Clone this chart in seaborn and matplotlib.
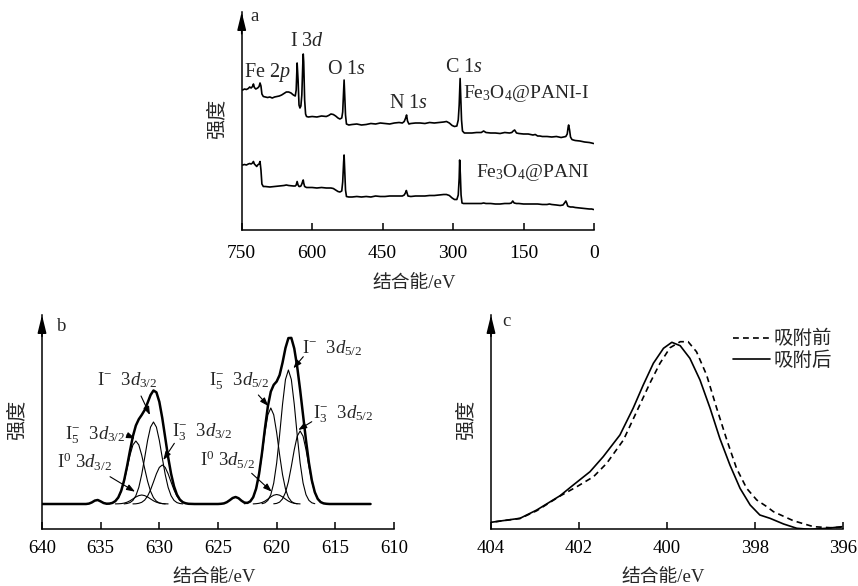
import numpy as np
import pandas as pd
import seaborn as sns
import matplotlib.pyplot as plt

sns.set_style('ticks')
plt.rcParams['font.family'] = ['Liberation Serif', 'Noto Sans CJK SC']
plt.rcParams['mathtext.fontset'] = 'custom'
plt.rcParams['mathtext.rm'] = 'Liberation Serif'
plt.rcParams['mathtext.it'] = 'Liberation Serif:italic'
plt.rcParams['mathtext.bf'] = 'Liberation Serif:bold'
plt.rcParams['axes.unicode_minus'] = False

# ---------------- 数据 ----------------
# a: 全谱 (Fe3O4@PANI-I 上, Fe3O4@PANI 下)
a_e_pani_i = [748, 744, 740, 736, 733, 730, 727, 725, 723, 720,
              716, 713, 711, 709, 707, 704, 700, 695, 690, 685,
              680, 675, 670, 665, 660, 655, 650, 645, 640, 636,
              634, 632, 630, 628, 626, 624, 622, 620, 619, 618,
              616, 614, 612, 608, 600, 590, 580, 570, 565, 560,
              555, 550, 545, 541, 537, 535, 533, 532, 531, 529,
              527, 522, 515, 505, 495, 485, 475, 465, 455, 445,
              435, 425, 415, 408, 404, 401, 399, 397, 394, 390,
              380, 370, 360, 350, 340, 330, 320, 314, 308, 302,
              297, 292, 289, 287, 285, 284, 282, 280, 276, 270,
              260, 250, 240, 235, 230, 220, 210, 200, 190, 180,
              175, 172, 169, 165, 160, 150, 140, 130, 125, 120,
              115, 110, 100, 90, 80, 70, 65, 60, 57, 55,
              54, 52, 50, 47, 44, 40, 30, 20, 10, 5,
              1]
a_h_pani_i = [140, 141, 140.5, 141.5, 143, 142, 143.5, 146, 142.5, 141,
              142, 143.5, 147, 144, 136, 133.5, 133, 132.5, 133, 132,
              133, 133.5, 134, 135, 136.5, 138, 138, 137, 135, 134,
              140, 167, 150, 125, 122, 124, 135, 165, 176, 168,
              130, 116, 113.5, 113, 113.5, 113, 114, 113.5, 114.5, 116,
              115.5, 114, 112, 111, 112, 118, 140, 150, 138, 115,
              106, 105, 105.5, 106, 105, 105.5, 106.5, 106, 107, 106.5,
              106, 107, 107.5, 107, 108.5, 112, 115, 109, 106, 106.5,
              107, 107, 106.5, 107.5, 107, 107.5, 108, 108.5, 107, 104.5,
              103.5, 104, 110, 125, 151.5, 140, 110, 99, 97, 97,
              97, 97.5, 97.5, 99, 97.5, 97, 97, 96.5, 97.5, 97,
              97.5, 99, 100, 97, 96.5, 96, 96, 95, 95.5, 94,
              94, 93.5, 93.5, 93, 93.5, 92.5, 93, 93.5, 96, 103,
              105, 100, 93, 90.5, 90, 89.5, 89, 88, 87.5, 87,
              86.5]

a_e_pani = [748, 744, 740, 736, 733, 730, 727, 725, 723, 720,
            718, 716, 713, 711, 709, 707, 704, 700, 690, 680,
            670, 660, 655, 650, 640, 636, 634, 632, 630, 628,
            626, 624, 622, 620, 619, 618, 616, 614, 612, 600,
            590, 580, 570, 560, 555, 550, 545, 541, 537, 535,
            533, 532, 531, 529, 527, 522, 515, 505, 495, 485,
            475, 465, 455, 445, 435, 425, 415, 408, 404, 401,
            399.5, 398, 396, 390, 380, 370, 360, 350, 340, 330,
            320, 314, 308, 302, 297, 292, 289, 287, 286, 284.5,
            283, 281, 278, 270, 260, 250, 240, 235, 230, 220,
            210, 200, 190, 180, 176, 173, 170, 165, 160, 150,
            140, 130, 120, 110, 100, 95, 90, 80, 72, 66,
            62, 60, 58, 56, 54, 50, 45, 40, 30, 20,
            10, 5, 1]
a_h_pani = [65, 65.5, 65, 66, 66.5, 66, 67, 68.5, 66, 64.5,
            63.5, 65, 66, 68.5, 60, 46, 43.5, 43.5, 43, 43.5,
            44, 44.5, 45, 44.5, 44, 44, 45, 48.5, 45, 43.5,
            43.5, 44, 46, 49, 50, 47, 43.5, 43, 42.5, 42.5,
            42, 42.5, 42, 42, 41.5, 40, 38.5, 38, 39, 48,
            68, 75, 62, 40, 33.5, 33, 33, 33.5, 33, 33.5,
            33, 34, 33.5, 33.5, 34, 34, 34, 34, 35, 37.5,
            39.5, 37, 34, 33.5, 34, 34, 34, 34.5, 34.5, 35,
            35.5, 35.5, 34.5, 32, 30.5, 30.5, 35, 52, 70, 55,
            35, 27, 26.5, 26.5, 26.5, 26.5, 26.5, 27, 26.5, 26.5,
            26, 26, 26.5, 26.5, 27, 29, 27, 26.5, 26.5, 26,
            26, 26, 26, 25.5, 25.5, 26, 25.5, 25, 24.5, 25,
            27.5, 29, 27, 24, 23.5, 23, 23, 22.5, 22, 21.5,
            21, 21, 20.5]

# b: I 3d 分峰 (起始能量, 每 0.25 eV 一个点)
b_step = 0.25
b_i5_32 = (629.5, [0.1, 0.4, 1.1, 2.8, 6.3, 12.8, 22.7, 35.5, 48.8, 59.1, 63,
                   59.1, 48.8, 35.5, 22.7, 12.8, 6.3, 2.8, 1.1, 0.4, 0.1])
b_i1_32 = (628.0, [0.1, 0.5, 1.4, 3.6, 8.3, 16.6, 29.6, 46.2, 63.6, 76.9, 82,
                   76.9, 63.6, 46.2, 29.6, 16.6, 8.3, 3.6, 1.4, 0.5, 0.1])
b_i3_32 = (627.25, [0.1, 0.2, 0.7, 1.7, 3.9, 7.9, 14.1, 22.0, 30.2, 36.6, 39,
                    36.6, 30.2, 22.0, 14.1, 7.9, 3.9, 1.7, 0.7, 0.2, 0.1])
b_i0_32 = (629.25, [0.1, 0.2, 0.4, 0.9, 1.8, 3.2, 5.1, 7.0, 8.4, 9,
                    8.4, 7.0, 5.1, 3.2, 1.8, 0.9, 0.4, 0.2, 0.1])
b_i5_52 = (618.25, [0.2, 0.8, 2.6, 6.7, 15.1, 29.4, 49.3, 71.4, 89.2, 96,
                    89.2, 71.4, 49.3, 29.4, 15.1, 6.7, 2.6, 0.8, 0.2])
b_i1_52 = (616.75, [0.3, 1.2, 3.6, 9.3, 21.0, 41.0, 68.9, 99.7, 124.5, 134,
                    124.5, 99.7, 68.9, 41.0, 21.0, 9.3, 3.6, 1.2, 0.3])
b_i3_52 = (615.75, [0.2, 0.6, 1.9, 5.1, 11.5, 22.3, 37.5, 54.3, 67.8, 73,
                    67.8, 54.3, 37.5, 22.3, 11.5, 5.1, 1.9, 0.6, 0.2])
b_i0_52 = (618.0, [0.1, 0.3, 0.7, 1.5, 2.9, 4.9, 7.1, 8.8, 9.5,
                   8.8, 7.1, 4.9, 2.9, 1.5, 0.7, 0.3, 0.1])
b_sat_1 = (634.5, [0.2, 1.0, 2.6, 4.0, 3.4, 1.6, 0.4])
b_sat_2 = (622.5, [0.3, 1.2, 3.3, 5.8, 7.0, 6.0, 3.8, 1.8, 0.6, 0.2])

# c: N 1s
c_e_before = [404.0, 403.34, 402.96, 402.43, 402.05, 401.67, 401.37, 400.99, 400.69, 400.39,
              400.16, 399.93, 399.70, 399.52, 399.33, 399.10, 398.87, 398.64, 398.42, 398.19,
              397.96, 397.73, 397.58, 397.13, 396.67, 396.29, 396.03]
c_h_before = [6.7, 10.5, 18.3, 33.0, 42.3, 52.3, 65.7, 89, 117.3, 145.7,
              165.7, 181.3, 187.3, 187.3, 177.3, 154, 120.7, 89, 60.7, 40.7,
              29, 22.3, 17.3, 8.3, 2.3, 1.3, 1.7]
c_e_after = [404.0, 403.34, 402.96, 402.7, 402.43, 402.13, 401.75, 401.45, 401.07, 400.77,
             400.54, 400.31, 400.08, 399.89, 399.70, 399.48, 399.25, 399.02, 398.80, 398.57,
             398.34, 398.11, 397.89, 397.66, 397.35, 397.05, 396.75, 396.37, 396.03]
c_h_after = [6.7, 10.7, 19, 26, 33.3, 44, 57.3, 72.3, 94, 120.7,
             144, 165.7, 180.7, 186.7, 183.3, 170.7, 149, 120.7, 90.7, 64,
             40.7, 24, 14, 10.7, 5, 0.7, -0.3, 0.7, 2.3]

# ---------------- 画布 ----------------
W, H = 858, 586
fig = plt.figure(figsize=(W / 100, H / 100), dpi=100)


def px_axes(x0, y0, x1, y1):
    return fig.add_axes([x0 / W, 1 - y1 / H, (x1 - x0) / W, (y1 - y0) / H])


ax_a = px_axes(241.7, 12, 594, 230)
ax_b = px_axes(42, 315, 394, 529)
ax_c = px_axes(491, 315, 843, 529)


def frame(ax, letter, lpos, pad, xlab_y, tick_size):
    for s in ('top', 'right'):
        ax.spines[s].set_visible(False)
    for s in ('left', 'bottom'):
        ax.spines[s].set_linewidth(1.1)
        ax.spines[s].set_color('black')
    ax.set_yticks([])
    ax.tick_params(axis='x', direction='in', length=5, width=1.1,
                   labelsize=tick_size, pad=pad, colors='black')
    ax.annotate('', xy=(0, 1.0), xytext=(0, 0.9), xycoords='axes fraction',
                arrowprops=dict(arrowstyle='-|>,head_length=0.9,head_width=0.22',
                                color='black', lw=1.1, shrinkA=0, shrinkB=0,
                                mutation_scale=12))
    ax.text(lpos[0], lpos[1], letter, transform=ax.transAxes,
            fontsize=13.5, ha='left', va='center')
    ax.set_ylabel('强度', fontsize=14.5, va='center')
    ax.yaxis.set_label_coords(-0.068, 0.51)
    ax.set_xlabel('结合能/eV', fontsize=13.5, va='center')
    ax.xaxis.set_label_coords(0.49, xlab_y)


# ---- a ----
for e, h in ((a_e_pani_i, a_h_pani_i), (a_e_pani, a_h_pani)):
    sns.lineplot(x=e, y=h, ax=ax_a, color='black', lw=1.2, estimator=None)
ax_a.set_xlim(750, 0)
ax_a.set_ylim(0, 218)
ax_a.set_xticks([750, 600, 450, 300, 150, 0])
frame(ax_a, 'a', (0.024, 0.978), 11, -0.245, 14)

a_labels = [('Fe 2$p$', 695, 158), ('I 3$d$', 612, 188), ('O 1$s$', 527, 160),
            ('N 1$s$', 396, 127), ('C 1$s$', 276, 163)]
for t, x, y in a_labels:
    ax_a.text(x, y, t, fontsize=14.5, ha='center', va='center')
ax_a.text(10, 137, 'Fe$_3$O$_4$@PANI-I', fontsize=14, ha='right', va='center')
ax_a.text(10, 58, 'Fe$_3$O$_4$@PANI', fontsize=14, ha='right', va='center')

# ---- b ----
grid = np.round(np.arange(612, 640.001, b_step), 2)
total = pd.Series(0.0, index=grid)
parts = [b_i5_32, b_i1_32, b_i3_32, b_i0_32, b_i5_52, b_i1_52, b_i3_52, b_i0_52]
for start, vals in parts + [b_sat_1, b_sat_2]:
    e = np.round(start + b_step * np.arange(len(vals)), 2)
    total = total.add(pd.Series(vals, index=e), fill_value=0)
for start, vals in parts:
    e = start + b_step * np.arange(len(vals))
    sns.lineplot(x=e, y=vals, ax=ax_b, color='black', lw=0.8, estimator=None)
sns.lineplot(x=total.index, y=total.values, ax=ax_b, color='black', lw=1.8,
             estimator=None)
ax_b.set_xlim(640, 610)
ax_b.set_ylim(-25, 189)
ax_b.set_xticks([640, 635, 630, 625, 620, 615, 610])
frame(ax_b, 'b', (0.043, 0.944), 8, -0.226, 13.5)

# 文字左端/基线位置, 箭头尾, 箭头头
b_labels = [
    (r'I$^{-}$  3$d_{3/2}$', (635.35, 119), (631.56, 108), (630.8, 89)),
    (r'I$_{5}^{-}$  3$d_{3/2}$', (638.05, 64), (632.78, 69), (632.07, 65.5)),
    (r'I$_{3}^{-}$  3$d_{3/2}$', (628.95, 67.3), (628.72, 60.7), (629.66, 44)),
    (r'I$^{0}$ 3$d_{3/2}$', (638.75, 35.7), (634.2, 27.3), (632.07, 12.3)),
    (r'I$_{5}^{-}$  3$d_{5/2}$', (625.8, 119), (621.56, 109), (620.71, 98)),
    (r'I$^{-}$  3$d_{5/2}$', (617.87, 150.7), (617.73, 147.3), (618.58, 135.7)),
    (r'I$_{3}^{-}$  3$d_{5/2}$', (616.88, 85.7), (617.01, 82.3), (618.16, 74)),
    (r'I$^{0}$ 3$d_{5/2}$', (626.5, 37.3), (622.13, 30.7), (620.42, 12.3)),
]
for t, tp, tail, head in b_labels:
    ax_b.text(tp[0], tp[1], t, fontsize=13.5, ha='left', va='baseline')
    ax_b.annotate('', xy=head, xytext=tail,
                  arrowprops=dict(arrowstyle='-|>,head_length=0.5,head_width=0.18',
                                  color='black', lw=0.8, shrinkA=0, shrinkB=0,
                                  mutation_scale=10))

# ---- c ----
sns.lineplot(x=c_e_before, y=c_h_before, ax=ax_c, color='black', lw=1.2,
             linestyle=(0, (3.5, 2.5)), label='吸附前', estimator=None)
sns.lineplot(x=c_e_after, y=c_h_after, ax=ax_c, color='black', lw=1.2,
             label='吸附后', estimator=None)
ax_c.set_xlim(404, 396)
ax_c.set_ylim(0, 214)
ax_c.set_xticks([404, 402, 400, 398, 396])
frame(ax_c, 'c', (0.032, 0.969), 8, -0.226, 13.5)
ax_c.legend(loc='upper right', bbox_to_anchor=(0.97, 0.93), frameon=False,
            fontsize=14, handlelength=1.9, handletextpad=0.2, labelspacing=0.15,
            borderpad=0, borderaxespad=0)

fig.savefig('out.png', dpi=100)
